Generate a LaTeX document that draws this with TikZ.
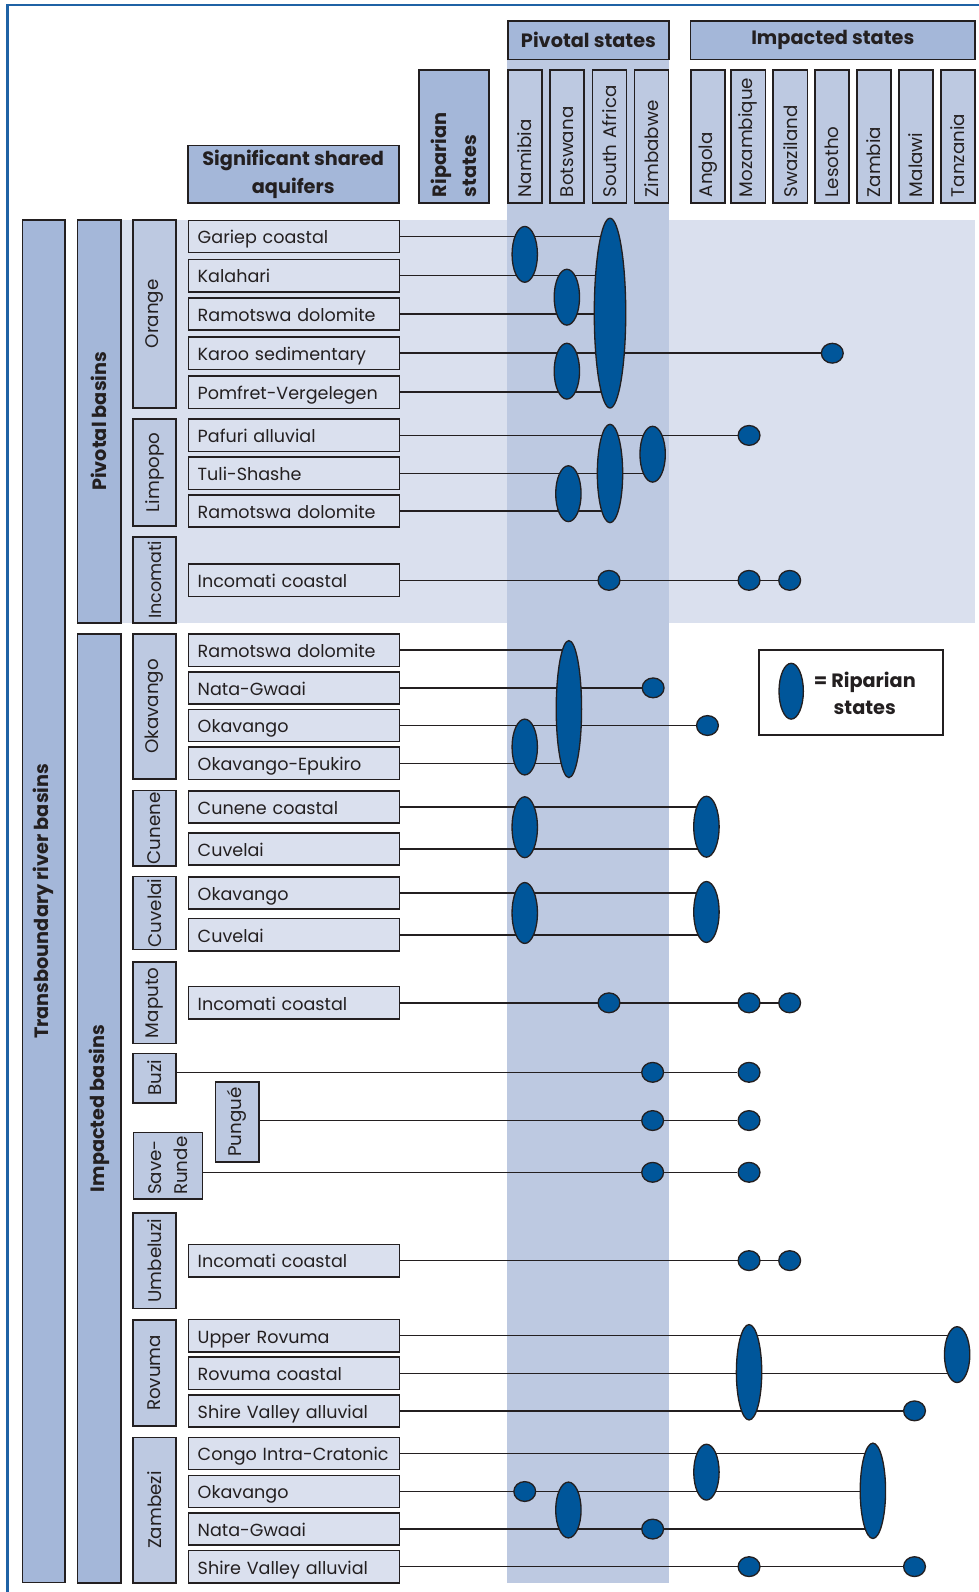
\documentclass[tikz,border=0pt]{standalone}
\usepackage{fontspec}
\setmainfont{Poppins}
\usetikzlibrary{shapes.geometric}
\definecolor{hdrfill}{RGB}{164,183,217}
\definecolor{colfill}{RGB}{189,201,225}
\definecolor{aqfill}{RGB}{218,224,238}
\definecolor{ripblue}{RGB}{0,86,154}
\definecolor{frameblue}{RGB}{31,98,165}
\definecolor{ink}{RGB}{35,31,32}
\pgfdeclarelayer{back}
\pgfdeclarelayer{wires}
\pgfsetlayers{back,wires,main}
\begin{document}
\begin{tikzpicture}[x=1pt, y=-1pt,
  hdr/.style={draw=ink, line width=1.6pt, fill=hdrfill, text=ink, inner sep=0pt, align=center,
    font=\bfseries\fontsize{19}{27}\selectfont},
  cntry/.style={draw=ink, line width=1.6pt, fill=colfill, text=ink, rotate=90, minimum height=33.6pt,
    text width=119pt, inner xsep=6pt, inner ysep=0pt, align=left, font=\fontsize{18}{20}\selectfont},
  basin/.style={draw=ink, line width=1.6pt, fill=colfill, text=ink, rotate=90, minimum height=42.4pt,
    inner sep=0pt, font=\fontsize{18}{26}\selectfont},
  aq/.style={draw=ink, line width=1.6pt, fill=aqfill, text=ink, anchor=west, minimum height=31.8pt,
    text width=189.8pt, inner xsep=9pt, inner ysep=0pt, text height=14.5pt, text depth=0pt,
    font=\fontsize{17.3}{19}\selectfont},
  rip/.style={ellipse, draw=ink, line width=1.3pt, fill=ripblue, inner sep=0pt,
    minimum width=25pt, minimum height=55pt},
  dot/.style={rip, minimum width=21.5pt, minimum height=19.5pt},
  wire/.style={draw=ink, line width=1.5pt}]
\useasboundingbox (0,0) rectangle (964.5,1568.5);
\draw[frameblue, line width=2pt] (980,4.9) -- (7.4,4.9) -- (7.4,1580);

% column headers
\node[hdr, minimum width=158.3pt, minimum height=37.8pt] (pivS) at (579.75,39.6) {Pivotal states};
\node[hdr, minimum width=280.2pt, minimum height=37.8pt] (impS) at (820.5,39.6) {Impacted states};
\node[hdr, rotate=90, minimum width=131.3pt, minimum height=69.2pt, text width=119pt, inner xsep=6pt,
  align=left, font=\bfseries\fontsize{19}{29}\selectfont] (ripS) at (447.2,134.65) {Riparian\\states};
\node[hdr, minimum width=207.8pt, minimum height=56.8pt] (sigA) at (288.9,171.9) {Significant shared\\aquifers};
\foreach \n/\x/\t in {nam/517.2/Namibia, bot/558.8/Botswana, rsa/600.6/South Africa, zim/642/Zimbabwe,
  ang/697.3/Angola, moz/737.3/Mozambique, swz/778.6/Swaziland, les/819.6/Lesotho,
  zmb/861.1/Zambia, mlw/902.4/Malawi, tza/943.6/Tanzania}
  \node[cntry] (\n) at (\x,134.65) {\t};

\begin{pgfonlayer}{back}
  \fill[aqfill] (120,216.7) rectangle (960.6,613.5);
  \fill[colfill] (pivS.south west) rectangle (658.9,1559.3);
\end{pgfonlayer}

% river basins
\node[hdr, rotate=90, minimum width=1342.6pt, minimum height=42pt] (trans) at (43,888) {Transboundary river basins};
\node[hdr, rotate=90, minimum width=396.8pt, minimum height=42.5pt] (pivB) at (97.75,415.1) {Pivotal basins};
\node[hdr, rotate=90, minimum width=934.7pt, minimum height=42.5pt] (impB) at (97.75,1092) {Impacted basins};
\node[basin, minimum width=185pt] (orange) at (152.2,309.2) {Orange};
\node[basin, minimum width=105pt] (limpopo) at (152.2,465.5) {Limpopo};
\node[basin, minimum width=84.5pt, font=\fontsize{17.3}{20}\selectfont] (incomati) at (152.2,571.3) {Incomati};
\node[basin, minimum width=143pt] (okavango) at (152.2,696) {Okavango};
\node[basin, minimum width=74.2pt] (cunene) at (152.2,816.1) {Cunene};
\node[basin, minimum width=71.6pt] (cuvelai) at (152.2,899.5) {Cuvelai};
\node[basin, minimum width=80pt] (maputo) at (152.2,988) {Maputo};
\node[basin, minimum width=48.6pt] (buzi) at (152.2,1062.1) {Buzi};
\node[basin, minimum width=78.5pt] (pungue) at (233.7,1105.5) {Pungué};
\node[basin, minimum width=65.7pt, minimum height=68pt, align=left] (save) at (165.4,1148.5) {Save-\\Runde};
\node[basin, minimum width=94.2pt] (umbeluzi) at (152.2,1241.9) {Umbeluzi};
\node[basin, minimum width=104.5pt] (rovuma) at (152.2,1352.7) {Rovuma};
\node[basin, minimum width=143pt] (zambezi) at (152.2,1487.9) {Zambezi};

% aquifers
\node[aq] (gariep) at (185,233) {Gariep coastal};
\node[aq] (kalahari) at (185,271.5) {Kalahari};
\node[aq] (ramO) at (185,309.5) {Ramotswa dolomite};
\node[aq] (karoo) at (185,348) {Karoo sedimentary};
\node[aq] (pomfret) at (185,386.4) {Pomfret-Vergelegen};
\node[aq] (pafuri) at (185,429) {Pafuri alluvial};
\node[aq] (tuli) at (185,466.3) {Tuli-Shashe};
\node[aq] (ramL) at (185,503.6) {Ramotswa dolomite};
\node[aq] (incP) at (185,571.8) {Incomati coastal};
\node[aq] (ramK) at (185,640.6) {Ramotswa dolomite};
\node[aq] (nataK) at (185,677.7) {Nata-Gwaai};
\node[aq] (okaK) at (185,714.8) {Okavango};
\node[aq] (epuk) at (185,752) {Okavango-Epukiro};
\node[aq] (cunc) at (185,795) {Cunene coastal};
\node[aq] (cuvC) at (185,836.3) {Cuvelai};
\node[aq] (okaV) at (185,879.7) {Okavango};
\node[aq] (cuvV) at (185,921) {Cuvelai};
\node[aq] (incM) at (185,988) {Incomati coastal};
\node[aq] (incU) at (185,1242) {Incomati coastal};
\node[aq] (upper) at (185,1316) {Upper Rovuma};
\node[aq] (rovc) at (185,1353) {Rovuma coastal};
\node[aq] (shireR) at (185,1390) {Shire Valley alluvial};
\node[aq] (congo) at (185,1432) {Congo Intra-Cratonic};
\node[aq] (okaZ) at (185,1469.5) {Okavango};
\node[aq] (nataZ) at (185,1506.5) {Nata-Gwaai};
\node[aq] (shireZ) at (185,1543.5) {Shire Valley alluvial};

% riparian states
\node[rip] (namO) at (517,250.6) {};
\node[rip] (botO1) at (558.5,292.8) {};
\node[rip, minimum width=31pt, minimum height=187pt] (saO) at (601,308.5) {};
\node[rip] (botO2) at (558.5,365.7) {};
\node[dot] (lesO) at (820,348) {};
\node[rip, minimum height=97pt] (saL) at (601,466.5) {};
\node[rip] (zimL) at (643,447.5) {};
\node[rip] (botL) at (560,486.4) {};
\node[dot] (mozL) at (738,429) {};
\node[dot] (saI) at (600,571.8) {};
\node[dot] (mozI) at (738,571.8) {};
\node[dot] (swzI) at (778,571.8) {};
\node[rip, minimum height=135pt] (botK) at (560.5,698.6) {};
\node[dot] (zimK) at (643.5,677.7) {};
\node[dot] (angK) at (697,714.8) {};
\node[rip] (namK) at (517,736) {};
\node[rip, minimum height=60pt] (namC) at (517,815) {};
\node[rip, minimum height=60pt] (angC) at (696,814.5) {};
\node[rip, minimum height=60pt] (namV) at (517,899.5) {};
\node[rip, minimum height=60pt] (angV) at (696,898.5) {};
\node[dot] (saM) at (600,988) {};
\node[dot] (mozM) at (738,988) {};
\node[dot] (swzM) at (778,988) {};
\node[dot] (zimB) at (643,1056.5) {};
\node[dot] (mozB) at (738,1056.5) {};
\node[dot] (zimP) at (643,1104) {};
\node[dot] (mozP) at (738,1104) {};
\node[dot] (zimS) at (643,1155) {};
\node[dot] (mozS) at (738,1155) {};
\node[dot] (mozU) at (738,1242) {};
\node[dot] (swzU) at (778,1242) {};
\node[rip, minimum height=94pt] (mozR) at (738,1352) {};
\node[rip] (tzaR) at (943,1334.6) {};
\node[dot] (mlwR) at (901,1390) {};
\node[dot] (namZ) at (517,1469.5) {};
\node[rip] (botZ) at (560,1487.7) {};
\node[dot] (zimZ) at (643,1506.5) {};
\node[rip] (angZ) at (696,1450.4) {};
\node[rip, minimum height=94pt] (zmbZ) at (860,1468.8) {};
\node[dot] (mozZ) at (738,1543.5) {};
\node[dot] (mlwZ) at (901,1543.5) {};

% legend
\node[draw=ink, line width=1.6pt, minimum width=180.8pt, minimum height=83.6pt] (legend) at (838.4,682.2) {};
\node[rip, minimum width=24pt] (legRip) at (779.5,681) {};
\node[text=ink, align=center, font=\bfseries\fontsize{19}{27}\selectfont] (legTxt) at (852,683) {= Riparian\\states};

\begin{pgfonlayer}{wires}
  \foreach \a/\b in {gariep/saO, kalahari/saO, ramO/saO, karoo/lesO, pomfret/saO,
    pafuri/mozL, tuli/zimL, ramL/saL, incP/swzI,
    ramK/botK, nataK/zimK, okaK/angK, epuk/botK, cunc/angC, cuvC/angC, okaV/angV, cuvV/angV,
    incM/swzM, incU/swzU, upper/tzaR, rovc/tzaR, shireR/mlwR,
    congo/zmbZ, okaZ/zmbZ, nataZ/zmbZ, shireZ/mlwZ}
    \draw[wire] (\a.east) -- (\a.east -| \b);
  \draw[wire] (buzi.south |- mozB) -- (mozB);
  \draw[wire] (pungue.south |- mozP) -- (mozP);
  \draw[wire] (save.south |- mozS) -- (mozS);
\end{pgfonlayer}
\end{tikzpicture}
\end{document}
